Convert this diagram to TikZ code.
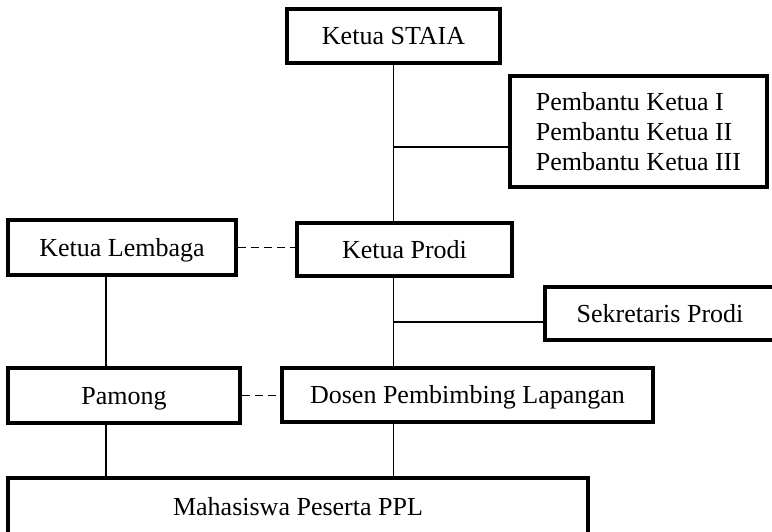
\documentclass[tikz,border=0pt]{standalone}
\usepackage{fontspec}
\setmainfont{Liberation Serif}
\usetikzlibrary{positioning}

\begin{document}
\begin{tikzpicture}[x=1pt, y=-1pt,
    box/.style={draw, line width=3.8pt, inner sep=0pt, minimum height=54pt,
        text height=18pt, text depth=1pt,
        font=\fontsize{26pt}{30pt}\selectfont},
    listbox/.style={draw, line width=3.8pt, inner sep=0pt, align=left,
        font=\fontsize{26pt}{30pt}\selectfont},
    link/.style={line width=1.8pt},
    dashlink/.style={line width=1.8pt, dash pattern=on 8pt off 5pt}]
    % page frame, same size as the scan
    \useasboundingbox (0,0) rectangle (772,531);

    % top part
    \node [box, minimum width=213pt] (staia) at (393.5,36) {Ketua STAIA};
    \node [listbox, minimum width=257pt, minimum height=111pt] (pembantu) at (638.5,131.5)
        {Pembantu Ketua I\\Pembantu Ketua II\\Pembantu Ketua III};

    % middle row
    \node [box, minimum width=228pt, minimum height=55pt] (lembaga) at (122,247.5) {Ketua Lembaga};
    \node [box, minimum width=215pt, minimum height=53pt] (prodi) at (404.5,249.5) {Ketua Prodi};
    \node [box, minimum width=230pt, minimum height=53pt] (sekretaris) at (660,313.5) {Sekretaris Prodi};

    % lower row
    \node [box, minimum width=232pt, minimum height=55pt] (pamong) at (124,395.5) {Pamong};
    \node [box, minimum width=371pt] (dosen) at (467.5,395) {Dosen Pembimbing Lapangan};
    \node [box, minimum width=580pt, minimum height=57pt] (mahasiswa) at (298,506.5) {Mahasiswa Peserta PPL};

    % trunk lines and where the side branches leave them
    \coordinate (batang) at (393.5,0);
    \coordinate (kiri) at (106,0);
    \coordinate (cabang1) at (393.5,147);
    \coordinate (cabang2) at (393.5,322);

    % right trunk
    \draw [link] (staia.south) -- (batang |- prodi.north);
    \draw [link] (batang |- prodi.south) -- (batang |- dosen.north);
    \draw [link] (batang |- dosen.south) -- (batang |- mahasiswa.north);
    \draw [link] (cabang1) -- (cabang1 -| pembantu.west);
    \draw [link] (cabang2) -- (cabang2 -| sekretaris.west);

    % left trunk
    \draw [link] (kiri |- lembaga.south) -- (kiri |- pamong.north);
    \draw [link] (kiri |- pamong.south) -- (kiri |- mahasiswa.north);

    % coordination, dashed
    \draw [dashlink] (lembaga.east) -- (lembaga.east -| prodi.west);
    \draw [dashlink] (pamong.east) -- (pamong.east -| dosen.west);
\end{tikzpicture}
\end{document}
